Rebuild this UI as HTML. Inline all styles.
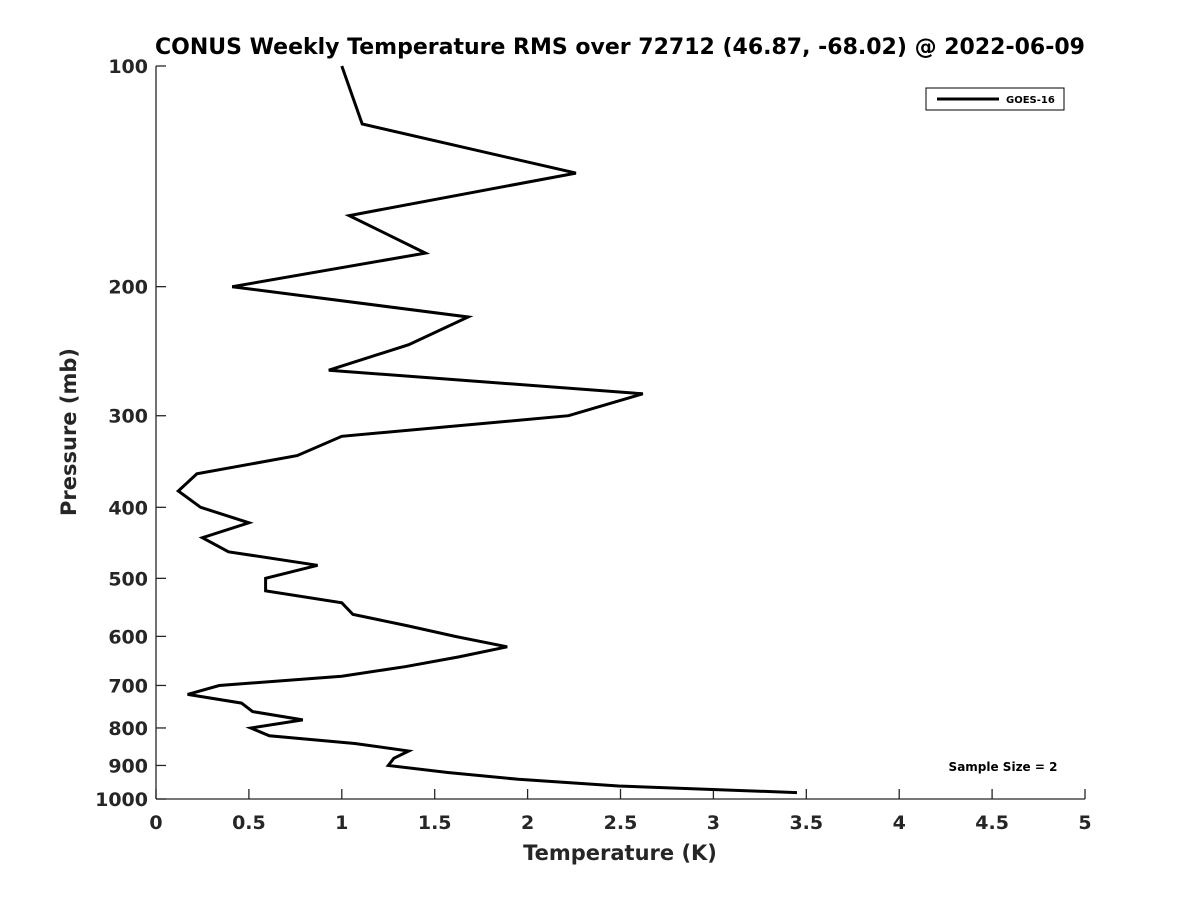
<!DOCTYPE html>
<html><head><meta charset="utf-8"><style>
html,body{margin:0;padding:0;background:#fff;}
svg{display:block;font-family:"DejaVu Sans","Liberation Sans",sans-serif;font-weight:bold;}
</style></head><body>
<svg id="chart" width="1200" height="900">
<text x="620" y="54" text-anchor="middle" font-size="22" fill="#000">CONUS Weekly Temperature RMS over 72712 (46.87, -68.02) @ 2022-06-09</text>
<g id="axes"></g>
<path id="series" fill="none" stroke="#000" stroke-width="3" stroke-linejoin="miter"></path>
<g>
<rect x="926" y="88" width="138" height="22" fill="#fff" stroke="#000" stroke-width="1"/>
<line x1="937" y1="99" x2="999" y2="99" stroke="#000" stroke-width="3"/>
<text x="1006" y="103" font-size="10" fill="#000">GOES-16</text>
</g>
<text x="1003" y="771" text-anchor="middle" font-size="12" fill="#000">Sample Size = 2</text>
<text x="620" y="860" text-anchor="middle" font-size="21" fill="#262626">Temperature (K)</text>
<text transform="translate(76,432) rotate(-90)" text-anchor="middle" font-size="21" fill="#262626">Pressure (mb)</text>
</svg>
<script>
const pressures=[100,120,140,160,180,200,220,240,260,280,300,320,340,360,380,400,420,440,460,480,500,520,540,560,580,600,620,640,660,680,700,720,740,760,780,800,820,840,860,880,900,920,940,960,980];
const rmsValues=[1.0,1.11,2.26,1.04,1.45,0.41,1.68,1.36,0.93,2.62,2.22,1.0,0.76,0.22,0.12,0.24,0.5,0.25,0.39,0.87,0.59,0.59,1.0,1.06,1.35,1.61,1.89,1.63,1.34,1.0,0.34,0.17,0.46,0.52,0.79,0.51,0.61,1.07,1.36,1.28,1.25,1.57,1.95,2.49,3.45];
const xTicks=[0,0.5,1,1.5,2,2.5,3,3.5,4,4.5,5];
const xTickLabels=["0","0.5","1","1.5","2","2.5","3","3.5","4","4.5","5"];
const yTicks=[100,200,300,400,500,600,700,800,900,1000];
const yTickLabels=["100","200","300","400","500","600","700","800","900","1000"];
const X0=156,X1=1085,Y0=66,Y1=799;
function xs(v){return X0+(v-0)/(5-0)*(X1-X0);}
function ys(p){return Y0+(Math.log10(p)-2)/(3-2)*(Y1-Y0);}
const NS="http://www.w3.org/2000/svg";
const axes=document.getElementById('axes');
function mk(tag,attrs,parent){const e=document.createElementNS(NS,tag);for(const k in attrs)e.setAttribute(k,attrs[k]);parent.appendChild(e);return e;}
const yl=mk('line',{x1:X0,y1:Y0,x2:X0,y2:Y1,stroke:'#262626','stroke-width':1.3},axes);


const xl=mk('line',{x1:X0,y1:Y1,x2:X1,y2:Y1,stroke:'#262626','stroke-width':1.3},axes);


xTicks.forEach((t,i)=>{
 const x=xs(t);
 const tk=mk('line',{x1:x,y1:Y1,x2:x,y2:Y1-10,stroke:'#262626','stroke-width':1.3},axes);
 
 
 const tx=mk('text',{x:x,y:Y1+30,'text-anchor':'middle','font-size':19,fill:'#262626'},axes);
 tx.textContent=xTickLabels[i];
 
 
});
yTicks.forEach((t,i)=>{
 const y=ys(t);
 const tk=mk('line',{x1:X0,y1:y,x2:X0+10,y2:y,stroke:'#262626','stroke-width':1.3},axes);
 
 
 const tx=mk('text',{x:X0-8,y:y+7,'text-anchor':'end','font-size':19,fill:'#262626'},axes);
 tx.textContent=yTickLabels[i];
 
 
});
let d='';
pressures.forEach((p,i)=>{d+=(i?'L':'M')+xs(rmsValues[i]).toFixed(1)+','+ys(p).toFixed(1);});
document.getElementById('series').setAttribute('d',d);
</script>
</body></html>
